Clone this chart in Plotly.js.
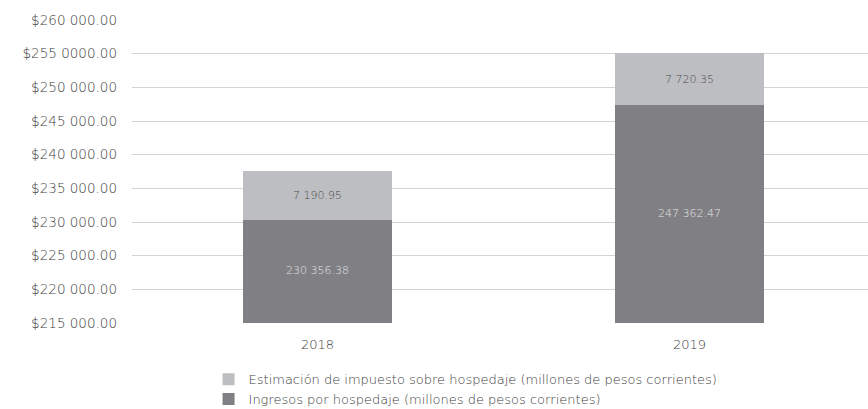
<!DOCTYPE html>
<html>
<head>
<meta charset="utf-8">
<script src="https://cdn.plot.ly/plotly-3.0.1.min.js"></script>
<style>html,body{margin:0;padding:0;background:#fff;overflow:hidden}#chart{width:868px;height:409px}</style>
</head>
<body>
<div id="chart"></div>
<script>
const years = ["2018", "2019"];
const ingresos = [230356.38, 247362.47];
const estimacion = [7190.95, 7720.35];
const tickVals = [215000, 220000, 225000, 230000, 235000, 240000, 245000, 250000, 255000, 260000];
const tickText = ["$215 000.00", "$220 000.00", "$225 000.00", "$230 000.00", "$235 000.00", "$240 000.00", "$245 000.00", "$250 000.00", "$255 0000.00", "$260 000.00"];
const nameIngresos = "Ingresos por hospedaje (millones de pesos corrientes)";
const nameEstimacion = "Estimación de impuesto sobre hospedaje (millones de pesos corrientes)";
const yMin = 215000, yMax = 260000;

const FONT = "'DejaVu Sans', sans-serif";
const TXT = "#404040";

const traces = [
  {
    type: "bar", x: years, y: ingresos, name: nameIngresos,
    marker: {color: "#808084"},
    textposition: "none",
    hoverinfo: "none"
  },
  {
    type: "bar", x: years, y: estimacion, name: nameEstimacion,
    marker: {color: "#bdbec1"},
    texttemplate: "%{y:,.2f}", textposition: "inside", insidetextanchor: "middle", textangle: 0,
    textfont: {family: FONT, size: 11, color: "#4a4a4a", weight: 300},
    hoverinfo: "none"
  },
  {
    // labels of the visible part of the lower segment
    type: "scatter", mode: "text", x: years,
    y: ingresos.map(v => (yMin + v) / 2),
    text: ingresos, texttemplate: "%{text:,.2f}",
    textposition: "middle center",
    textfont: {family: FONT, size: 11, color: "#e4e4e4", weight: 300},
    showlegend: false, hoverinfo: "none", cliponaxis: false
  }
];

const layout = {
  width: 868, height: 409,
  margin: {l: 132, r: 0, t: 20, b: 86, autoexpand: false},
  barmode: "stack",
  bargap: 0.6,
  separators: ". ",
  paper_bgcolor: "#fff", plot_bgcolor: "#fff",
  font: {family: FONT, size: 13, color: TXT, weight: 300},
  showlegend: true,
  legend: {
    orientation: "v", traceorder: "reversed",
    x: 0.104, xanchor: "left", y: -0.136, yanchor: "top",
    font: {family: FONT, size: 13, color: TXT, weight: 300},
    bgcolor: "rgba(0,0,0,0)"
  },
  xaxis: {
    type: "category", range: [-0.4987, 1.48],
    showgrid: false, zeroline: false, showline: false,
    ticks: "", ticklabelstandoff: 12,
    tickfont: {family: FONT, size: 13, color: TXT, weight: 300}
  },
  yaxis: {
    range: [yMin, yMax],
    tickmode: "array", tickvals: tickVals, ticktext: tickText,
    showgrid: true, gridcolor: "#d4d4d4", gridwidth: 1,
    zeroline: false, showline: false, ticks: "",
    ticklabelstandoff: 14,
    tickfont: {family: FONT, size: 13.5, color: TXT, weight: 300}
  }
};

Plotly.newPlot("chart", traces, layout, {displayModeBar: false, staticPlot: true});
</script>
</body>
</html>
